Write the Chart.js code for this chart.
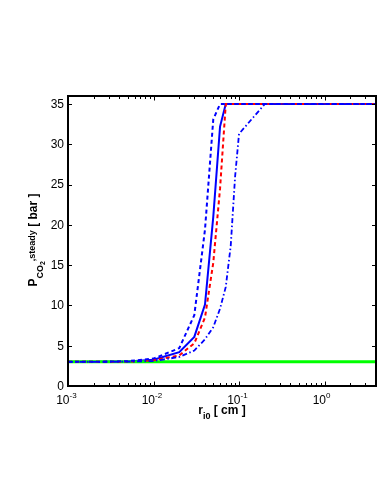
<!DOCTYPE html>
<html>
<head>
<meta charset="utf-8">
<script src="https://cdn.jsdelivr.net/npm/chart.js@4.4.1/dist/chart.umd.min.js"></script>
<style>
  html, body { margin: 0; padding: 0; background: #fff; }
  canvas { display: block; }
</style>
</head>
<body>
<canvas id="chart" width="382" height="494"></canvas>
<script>
// r_i0 sample points [cm]
const rValues = [0.001, 0.002, 0.005, 0.01, 0.02, 0.03, 0.04, 0.05, 0.06, 0.07, 0.08, 0.09, 0.1, 0.2, 0.5, 1, 2, 4];
// steady-state P_CO2 [bar] for each curve
const pSolid      = [3.0, 3.0, 3.05, 3.25, 4.2, 6.1, 10.1, 21.0, 32.2, 35, 35, 35, 35, 35, 35, 35, 35, 35];
const pRedDashed  = [3.0, 3.0, 3.03, 3.2, 3.8, 5.3, 8.5, 15.3, 24.5, 35, 35, 35, 35, 35, 35, 35, 35, 35];
const pBlueDashed = [3.0, 3.0, 3.08, 3.4, 4.7, 8.8, 19.4, 33.1, 35, 35, 35, 35, 35, 35, 35, 35, 35, 35];
const pDashDot    = [3.0, 3.0, 3.02, 3.1, 3.6, 4.4, 5.8, 7.3, 9.6, 12.3, 17.4, 26.0, 31.3, 35, 35, 35, 35, 35];
// constant reference line
const greenR = [0.001, 4];
const pGreen = [3.0, 3.0];

const xMajorTicks = [0.001, 0.01, 0.1, 1];
const xTickExponents = ['-3', '-2', '-1', '0'];
const yTicks = [0, 5, 10, 15, 20, 25, 30, 35];

function pts(xs, ys) {
  return xs.map((x, i) => ({x, y: ys[i]}));
}

// minor log ticks 2..9 per decade
const xMinorTicks = [];
xMajorTicks.forEach(d => {
  for (let k = 2; k <= 9; k++) {
    if (d * k <= 4) xMinorTicks.push(d * k);
  }
});

const FONT = '"Liberation Sans", Arial, Helvetica, sans-serif';

const matlabAxes = {
  id: 'matlabAxes',
  afterDraw(chart) {
    const ctx = chart.ctx;
    const {left, right, top, bottom} = chart.chartArea;
    const xs = chart.scales.x, ys = chart.scales.y;
    ctx.save();
    ctx.strokeStyle = '#000';
    ctx.fillStyle = '#000';

    // box
    ctx.lineWidth = 2;
    ctx.strokeRect(left, top, right - left, bottom - top);

    // inward ticks
    ctx.lineWidth = 1;
    ctx.beginPath();
    xs.ticks.forEach(t => {
      const x = Math.round(xs.getPixelForValue(t.value)) + 0.5;
      const len = t.major ? 4.5 : 3;
      ctx.moveTo(x, bottom); ctx.lineTo(x, bottom - len);
      ctx.moveTo(x, top); ctx.lineTo(x, top + len);
    });
    ys.ticks.forEach(t => {
      const y = Math.round(ys.getPixelForValue(t.value)) + 0.5;
      ctx.moveTo(left, y); ctx.lineTo(left + 4, y);
      ctx.moveTo(right, y); ctx.lineTo(right - 4, y);
    });
    ctx.stroke();

    // y tick labels
    ctx.font = '12px ' + FONT;
    ctx.textAlign = 'right';
    ctx.textBaseline = 'middle';
    ys.ticks.forEach(t => {
      ctx.fillText(String(t.value), left - 4, ys.getPixelForValue(t.value) + 0.5);
    });

    // x tick labels 10^n
    ctx.textBaseline = 'alphabetic';
    xs.ticks.filter(t => t.major).forEach(t => {
      const x = xs.getPixelForValue(t.value);
      const i = xMajorTicks.indexOf(t.value);
      ctx.font = '12px ' + FONT;
      ctx.textAlign = 'right';
      ctx.fillText('10', x + 1.5, bottom + 17.5);
      ctx.font = '8px ' + FONT;
      ctx.textAlign = 'left';
      ctx.fillText(xTickExponents[i], x + 1.5, bottom + 11.5);
    });

    // x axis title: r_i0 [ cm ]
    const xParts = [
      {t: 'r', size: 12, dy: 0},
      {t: 'i0', size: 9, dy: 5},
      {t: ' [ cm ]', size: 12, dy: 0}
    ];
    drawParts(ctx, xParts, (left + right) / 2, bottom + 28, 0);

    // y axis title: P_CO2,steady [ bar ]
    const yParts = [
      {t: 'P', size: 12, dy: 0},
      {t: 'CO', size: 9, dy: 5.5},
      {t: '2', size: 7, dy: 8},
      {t: ',steady', size: 9, dy: -2.5},
      {t: ' [ bar ]', size: 12, dy: 0}
    ];
    drawParts(ctx, yParts, 37, (top + bottom) / 2 - 1, -Math.PI / 2);

    ctx.restore();
  }
};

function drawParts(ctx, parts, cx, baseY, angle) {
  let total = 0;
  parts.forEach(p => {
    ctx.font = 'bold ' + p.size + 'px ' + FONT;
    p.w = ctx.measureText(p.t).width;
    total += p.w;
  });
  ctx.save();
  if (angle) {
    ctx.translate(cx, baseY);
    ctx.rotate(angle);
    ctx.translate(-total / 2, 0);
  } else {
    ctx.translate(cx - total / 2, baseY);
  }
  ctx.textAlign = 'left';
  ctx.textBaseline = 'alphabetic';
  let x = 0;
  parts.forEach(p => {
    ctx.font = 'bold ' + p.size + 'px ' + FONT;
    ctx.fillText(p.t, x, p.dy);
    x += p.w;
  });
  ctx.restore();
}

const ctx = document.getElementById('chart').getContext('2d');
new Chart(ctx, {
  type: 'line',
  data: {
    datasets: [
      {
        label: 'blue dashed',
        data: pts(rValues, pBlueDashed),
        borderColor: '#0000ff',
        borderDash: [4, 3],
        borderWidth: 2
      },
      {
        label: 'blue dash-dot',
        data: pts(rValues, pDashDot),
        borderColor: '#0000ff',
        borderDash: [5, 2.5, 1.5, 2.5],
        borderWidth: 1.8
      },
      {
        label: 'red dashed',
        data: pts(rValues, pRedDashed),
        borderColor: '#ff0000',
        borderDash: [4, 3],
        borderWidth: 2
      },
      {
        label: 'green',
        data: pts(greenR, pGreen),
        borderColor: '#00ff00',
        borderWidth: 3
      },
      {
        label: 'blue solid',
        data: pts(rValues, pSolid),
        borderColor: '#0000ff',
        borderWidth: 2
      }
    ]
  },
  options: {
    responsive: false,
    animation: false,
    layout: { padding: { top: 96, right: 6, left: 0, bottom: 0 } },
    elements: {
      point: { radius: 0 },
      line: { tension: 0, borderCapStyle: 'butt' }
    },
    plugins: {
      legend: { display: false },
      tooltip: { enabled: false }
    },
    scales: {
      x: {
        type: 'logarithmic',
        min: 0.001,
        max: 4,
        grid: { display: false },
        border: { display: false },
        ticks: { display: false },
        afterBuildTicks(scale) {
          scale.ticks = xMajorTicks.map(v => ({value: v, major: true}))
            .concat(xMinorTicks.map(v => ({value: v, major: false})));
        },
        afterFit(scale) { scale.height = 108; }
      },
      y: {
        type: 'linear',
        min: 0,
        max: 36,
        grid: { display: false },
        border: { display: false },
        ticks: { display: false },
        afterBuildTicks(scale) {
          scale.ticks = yTicks.map(v => ({value: v}));
        },
        afterFit(scale) { scale.width = 68; }
      }
    }
  },
  plugins: [matlabAxes]
});
</script>
</body>
</html>
